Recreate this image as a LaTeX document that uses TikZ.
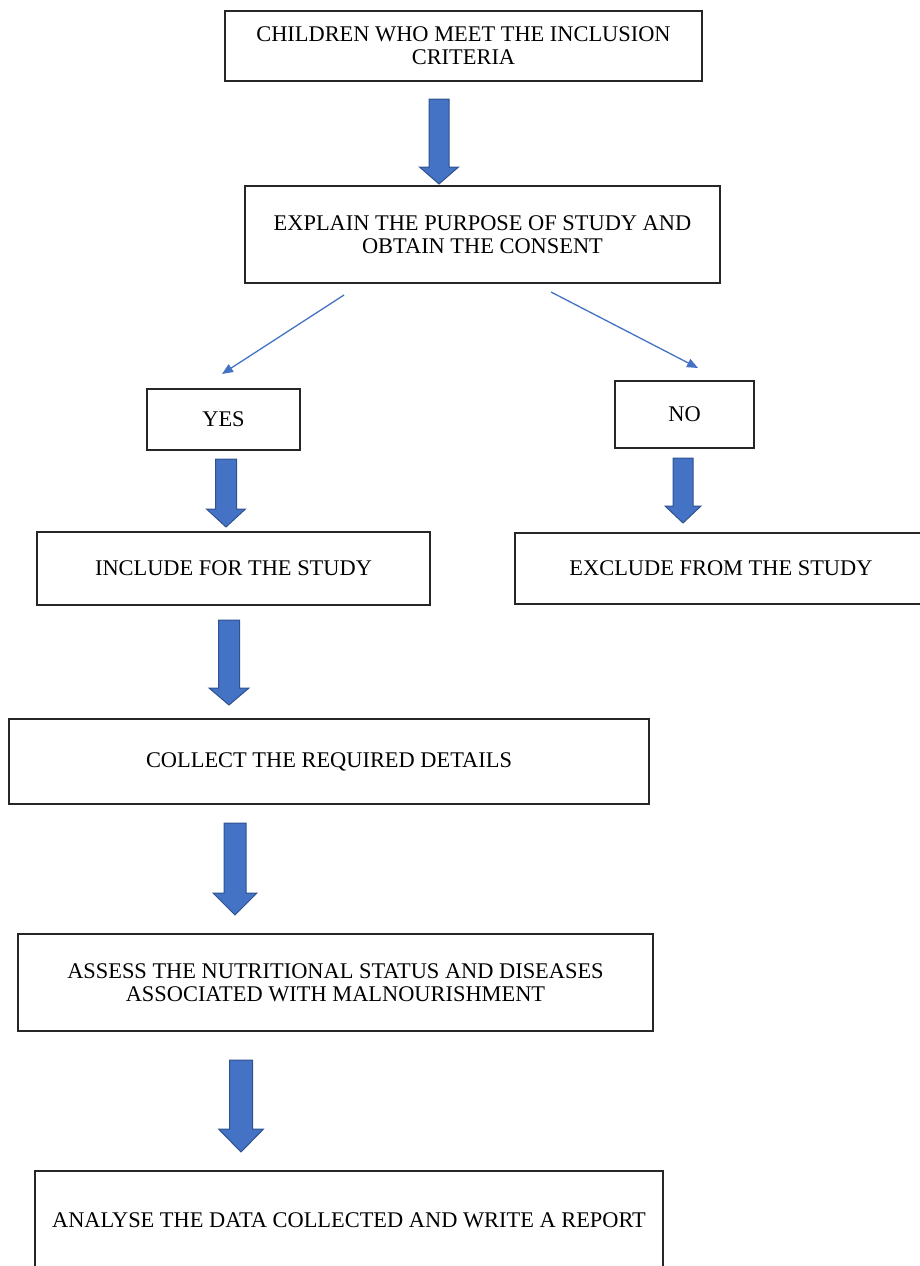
\documentclass[tikz,border=0pt]{standalone}
\usepackage{fontspec}
\setmainfont{Liberation Serif}
\usetikzlibrary{arrows.meta}
\definecolor{officeblue}{HTML}{4472C4}
\definecolor{officedark}{HTML}{2F528F}
\newcommand\blockarr[7]{%
  \coordinate (#1) at (#2,#3);
  \draw[blockarrow] ({#2-#6},#3) -- ({#2+#6},#3) -- ({#2+#6},#4) -- ({#2+#7},#4) -- (#2,#5) -- ({#2-#7},#4) -- ({#2-#6},#4) -- cycle;}
\begin{document}
\begin{tikzpicture}[x=1pt,y=-1pt,
  box/.style={draw=black!85, line width=1.5pt, align=center, inner sep=0pt,
    font=\fontsize{22.4}{23}\selectfont},
  thinarrow/.style={draw=officeblue, line width=1.3pt, -{Triangle[length=11pt,width=9pt]}},
  blockarrow/.style={fill=officeblue, draw=officedark, line width=1pt, line join=miter}]
\useasboundingbox (0,0) rectangle (920,1266);

\node[box, minimum width=477pt, minimum height=70pt] (b1) at (463.5,46) {CHILDREN WHO MEET THE INCLUSION\\CRITERIA};
\node[box, minimum width=475pt, minimum height=97pt] (b2) at (482.5,234.5) {EXPLAIN THE PURPOSE OF STUDY AND\\OBTAIN THE CONSENT};
\node[box, minimum width=153pt, minimum height=61pt] (yes) at (223.5,419.5) {YES};
\node[box, minimum width=139pt, minimum height=67pt] (no) at (684.5,414.5) {NO};
\node[box, minimum width=393pt, minimum height=73pt] (inc) at (233.5,568.5) {INCLUDE FOR THE STUDY};
\node[box, minimum width=412pt, minimum height=71pt] (exc) at (721,568.5) {EXCLUDE FROM THE STUDY};
\node[box, minimum width=640pt, minimum height=85pt] (col) at (329,761.5) {COLLECT THE REQUIRED DETAILS};
\node[box, minimum width=635pt, minimum height=97pt] (ass) at (335.5,982.5) {ASSESS THE NUTRITIONAL STATUS AND DISEASES\\ASSOCIATED WITH MALNOURISHMENT};
\node[box, minimum width=628pt, minimum height=98pt] (ana) at (349,1220) {ANALYSE THE DATA COLLECTED AND WRITE A REPORT};

\blockarr{a1}{439}{99}{167}{184}{10}{19.5}
\blockarr{ay}{226}{459}{509}{527}{10.5}{19.5}
\blockarr{an}{683}{458}{506}{523}{10}{18}
\blockarr{a3}{229}{620}{688}{705}{10.5}{20}
\blockarr{a4}{235}{823}{893}{915}{11}{22}
\blockarr{a5}{241}{1060}{1129}{1152}{11.5}{22.5}

\coordinate (ls) at (344,295);
\coordinate (le) at (222,374);
\coordinate (rs) at (551,292);
\coordinate (re) at (698,368);
\draw[thinarrow] (ls) -- (le);
\draw[thinarrow] (rs) -- (re);
\end{tikzpicture}
\end{document}
